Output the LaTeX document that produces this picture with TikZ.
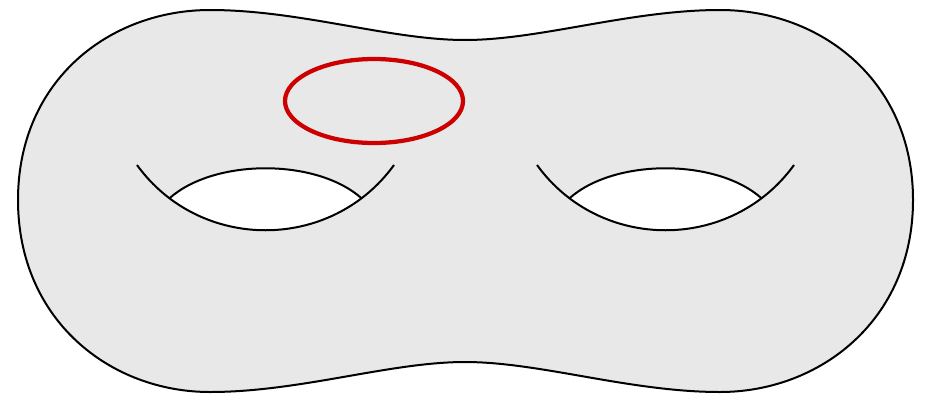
\documentclass[tikz,border=0pt]{standalone}
\usepackage{xcolor}
\usepackage{tikz}
\usetikzlibrary{calc}
\definecolor{surfgray}{HTML}{E8E8E8}
\definecolor{loopred}{HTML}{CC0000}

\begin{document}
\begin{tikzpicture}[
    x=0.02cm, y=-0.02cm,
    surface/.style={
        draw=black,
        line width=0.04cm,
        fill=surfgray
    },
    hole/.style={draw=black, line width=0.04cm},
    loop/.style={draw=loopred, line width=0.085cm}
]

% Frame
\useasboundingbox (0,0) rectangle (935,399);

% Genus-two surface outline
\path[surface] (18,200)
    .. controls (18,80) and (110,10) .. (210,10)
    .. controls (300,10) and (390,40) .. (465,40)
    .. controls (540,40) and (630,10) .. (720,10)
    .. controls (820,10) and (913,80) .. (913,200)
    .. controls (913,320) and (820,392) .. (720,392)
    .. controls (630,392) and (540,362) .. (465,362)
    .. controls (390,362) and (300,392) .. (210,392)
    .. controls (110,392) and (18,320) .. (18,200) -- cycle;

% Holes
\foreach \dx in {0,400} {
    \begin{scope}[shift={(\dx,0)}]
        \path (137,165) .. controls (200,252) and (331,252) .. (394,165)
            coordinate[pos=0.15] (hl) coordinate[pos=0.85] (hr);
        \begin{scope}
            \clip (137,165) .. controls (200,252) and (331,252) .. (394,165) -- cycle;
            \fill[white] (hl) .. controls ($(hl)+(45,-40)$) and ($(hr)+(-45,-40)$) .. (hr)
                -- ($(hr)+(0,60)$) -- ($(hl)+(0,60)$) -- cycle;
        \end{scope}
        \draw[hole] (137,165) .. controls (200,252) and (331,252) .. (394,165);
        \draw[hole] (hl) .. controls ($(hl)+(45,-40)$) and ($(hr)+(-45,-40)$) .. (hr);
    \end{scope}
}

% Red loop
\coordinate (loopc) at (374,101);
\draw[loop] (loopc) ellipse [x radius=89, y radius=42];

\end{tikzpicture}
\end{document}
